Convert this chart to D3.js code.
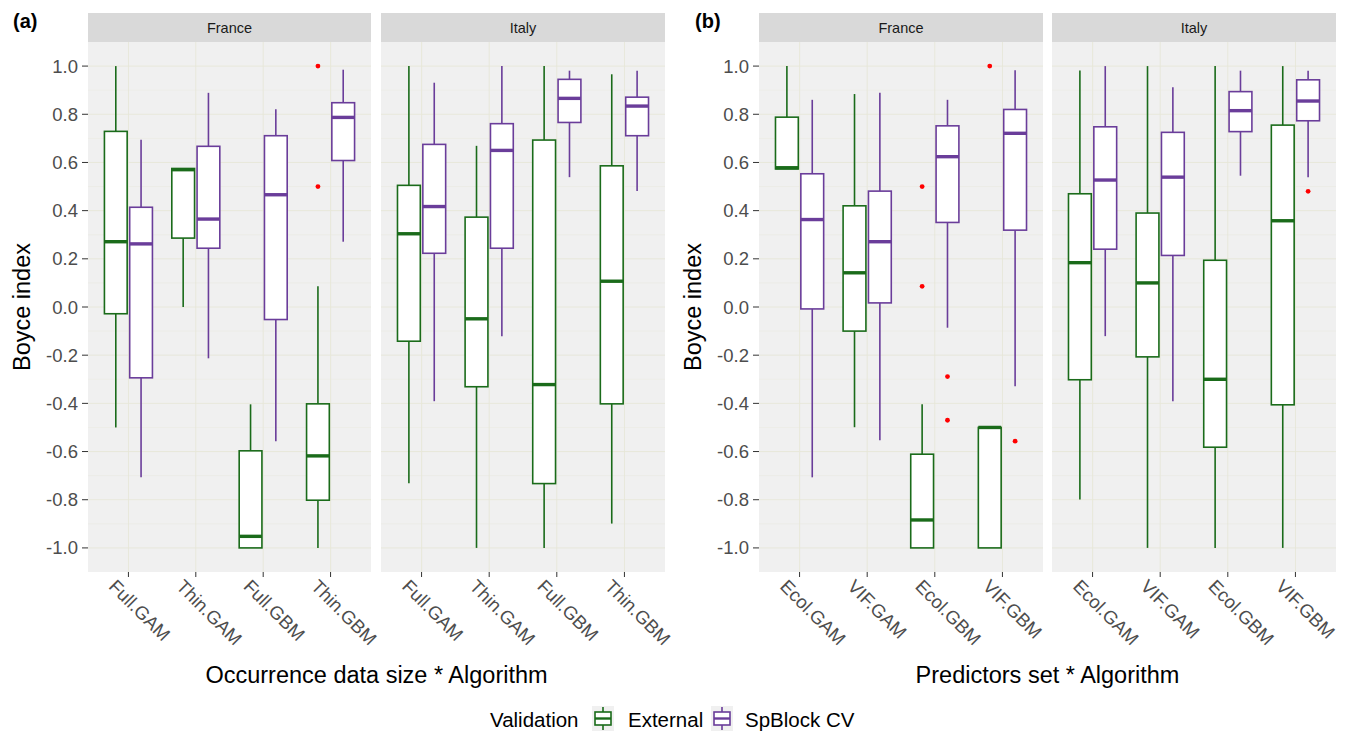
<!DOCTYPE html>
<html>
<head>
<meta charset="utf-8">
<script src="https://cdn.jsdelivr.net/npm/d3@7"></script>
<style>
  body { margin: 0; background: #fff; }
  svg text { font-family: "Liberation Sans", Arial, sans-serif; }
</style>
</head>
<body>
<svg id="chart" width="1354" height="731"></svg>
<script>
// *******************
// data
// *******************
const countries = ["France", "Italy"];
const validation = ["External", "SpBlock CV"];
const catsA = ["Full.GAM", "Thin.GAM", "Full.GBM", "Thin.GBM"];
const catsB = ["Ecol.GAM", "VIF.GAM", "Ecol.GBM", "VIF.GBM"];
const yTicks = [1.0, 0.8, 0.6, 0.4, 0.2, 0.0, -0.2, -0.4, -0.6, -0.8, -1.0];

// [lower whisker, q1, median, q3, upper whisker], one row per category
const aFranceExt = [[-0.5, -0.028, 0.271, 0.729, 1.0], [0.0, 0.286, 0.57, 0.575, 0.575], [-1.0, -1.0, -0.952, -0.597, -0.404], [-1.0, -0.802, -0.618, -0.402, 0.086]];
const aFranceSp = [[-0.707, -0.294, 0.262, 0.414, 0.694], [-0.213, 0.244, 0.365, 0.667, 0.889], [-0.557, -0.052, 0.466, 0.711, 0.821], [0.271, 0.608, 0.787, 0.848, 0.985]];
const aItalyExt = [[-0.732, -0.142, 0.304, 0.505, 1.0], [-1.0, -0.331, -0.049, 0.373, 0.669], [-1.0, -0.733, -0.322, 0.693, 1.0], [-0.899, -0.402, 0.107, 0.586, 0.966]];
const aItalySp = [[-0.391, 0.223, 0.417, 0.675, 0.931], [-0.121, 0.244, 0.65, 0.761, 1.0], [0.539, 0.766, 0.866, 0.945, 0.981], [0.481, 0.711, 0.834, 0.871, 0.981]];
const bFranceExt = [[0.573, 0.573, 0.578, 0.788, 1.0], [-0.499, -0.1, 0.142, 0.42, 0.884], [-1.0, -1.0, -0.884, -0.611, -0.404], [-1.0, -1.0, -0.5, -0.5, -0.5]];
const bFranceSp = [[-0.707, -0.008, 0.363, 0.553, 0.86], [-0.553, 0.017, 0.271, 0.481, 0.889], [-0.086, 0.351, 0.624, 0.752, 0.86], [-0.329, 0.319, 0.721, 0.82, 0.983]];
const bItalyExt = [[-0.799, -0.302, 0.184, 0.47, 0.982], [-1.0, -0.207, 0.1, 0.39, 1.0], [-1.0, -0.582, -0.3, 0.194, 1.0], [-1.0, -0.406, 0.358, 0.755, 1.0]];
const bItalySp = [[-0.121, 0.24, 0.527, 0.748, 1.0], [-0.391, 0.214, 0.539, 0.725, 0.912], [0.545, 0.728, 0.815, 0.894, 0.981], [0.539, 0.773, 0.855, 0.943, 0.981]];

// outliers: [category index, validation index, value]
const aFranceOut = [[3, 0, 1.0], [3, 0, 0.5]];
const aItalyOut = [];
const bFranceOut = [[2, 0, 0.5], [2, 0, 0.086], [2, 1, -0.289], [2, 1, -0.47], [3, 0, 1.0], [3, 1, -0.557]];
const bItalyOut = [[3, 1, 0.48]];

// *******************
// layout / style
// *******************
const COLORS = { External: "#1a6b1a", "SpBlock CV": "#6a3d9a" };
const PLOT = { TOP: 42, BOTTOM: 572, STRIP_TOP: 13 };
const FONT = { TICK: 18.5, TITLE: 23.5, STRIP: 14.5, LEGEND: 20.5, TAG: 20 };

const panels = [
  { tag: "(a)", tagX: 13, cats: catsA, title: "Occurrence data size * Algorithm", axisX: 88,
    facets: [
      { x0: 88, x1: 371, ext: aFranceExt, sp: aFranceSp, out: aFranceOut },
      { x0: 381, x1: 665, ext: aItalyExt, sp: aItalySp, out: aItalyOut }
    ] },
  { tag: "(b)", tagX: 695, cats: catsB, title: "Predictors set * Algorithm", axisX: 759,
    facets: [
      { x0: 759, x1: 1043, ext: bFranceExt, sp: bFranceSp, out: bFranceOut },
      { x0: 1052, x1: 1336, ext: bItalyExt, sp: bItalySp, out: bItalyOut }
    ] }
];

const svg = d3.select("#chart");

const y = d3.scaleLinear().domain([-1.1, 1.1]).range([PLOT.BOTTOM, PLOT.TOP]);
const minorTicks = d3.range(-0.9, 1.0, 0.2);

function drawBox(g, cx, w, s, color) {
  const [lo, q1, med, q3, hi] = s;
  // whiskers
  g.append("line").attr("x1", cx).attr("x2", cx).attr("y1", y(q3)).attr("y2", y(hi))
    .attr("stroke", color).attr("stroke-width", 1.6);
  g.append("line").attr("x1", cx).attr("x2", cx).attr("y1", y(q1)).attr("y2", y(lo))
    .attr("stroke", color).attr("stroke-width", 1.6);
  // box
  g.append("rect").attr("x", cx - w / 2).attr("width", w)
    .attr("y", y(q3)).attr("height", Math.max(0.5, y(q1) - y(q3)))
    .attr("fill", "#fff").attr("stroke", color).attr("stroke-width", 1.6);
  // median
  g.append("line").attr("x1", cx - w / 2).attr("x2", cx + w / 2)
    .attr("y1", y(med)).attr("y2", y(med))
    .attr("stroke", color).attr("stroke-width", 3.4);
}

panels.forEach((p) => {
  p.facets.forEach((f, fi) => {
    const x = d3.scalePoint().domain(p.cats).range([f.x0, f.x1]).padding(0.6);
    const step = x.step();
    const dodge = d3.scaleBand().domain(validation).range([-0.375 * step, 0.375 * step]);
    const boxW = dodge.bandwidth() * 0.9;
    const cx = (cat, v) => x(cat) + dodge(v) + dodge.bandwidth() / 2;

    const g = svg.append("g");

    // panel background + grid
    g.append("rect").attr("x", f.x0).attr("y", PLOT.TOP)
      .attr("width", f.x1 - f.x0).attr("height", PLOT.BOTTOM - PLOT.TOP)
      .attr("fill", "#f0f0f0");
    g.selectAll("line.minor").data(minorTicks).join("line")
      .attr("x1", f.x0).attr("x2", f.x1)
      .attr("y1", (d) => y(d)).attr("y2", (d) => y(d))
      .attr("stroke", "#e9e9df").attr("stroke-width", 0.5);
    g.selectAll("line.majorY").data(yTicks).join("line")
      .attr("x1", f.x0).attr("x2", f.x1)
      .attr("y1", (d) => y(d)).attr("y2", (d) => y(d))
      .attr("stroke", "#e6e6d8").attr("stroke-width", 0.9);
    g.selectAll("line.majorX").data(p.cats).join("line")
      .attr("x1", (d) => x(d)).attr("x2", (d) => x(d))
      .attr("y1", PLOT.TOP).attr("y2", PLOT.BOTTOM)
      .attr("stroke", "#e6e6d8").attr("stroke-width", 0.9);

    // strip
    g.append("rect").attr("x", f.x0).attr("y", PLOT.STRIP_TOP)
      .attr("width", f.x1 - f.x0).attr("height", PLOT.TOP - PLOT.STRIP_TOP)
      .attr("fill", "#d9d9d9");
    g.append("text").attr("x", (f.x0 + f.x1) / 2).attr("y", 32.5)
      .attr("text-anchor", "middle").attr("font-size", FONT.STRIP).attr("fill", "#1a1a1a")
      .text(countries[fi]);

    // boxes
    p.cats.forEach((c, ci) => {
      drawBox(g, cx(c, "External"), boxW, f.ext[ci], COLORS.External);
      drawBox(g, cx(c, "SpBlock CV"), boxW, f.sp[ci], COLORS["SpBlock CV"]);
    });

    // outliers
    g.selectAll("circle.out").data(f.out).join("circle")
      .attr("cx", (d) => cx(p.cats[d[0]], validation[d[1]]))
      .attr("cy", (d) => y(d[2]))
      .attr("r", 2.4).attr("fill", "#ff0000");

    // x axis ticks + labels
    g.selectAll("line.xtick").data(p.cats).join("line")
      .attr("x1", (d) => x(d)).attr("x2", (d) => x(d))
      .attr("y1", PLOT.BOTTOM).attr("y2", PLOT.BOTTOM + 5)
      .attr("stroke", "#333").attr("stroke-width", 1);
    g.selectAll("text.xlab").data(p.cats).join("text")
      .attr("transform", (d) => `translate(${x(d) - 11},${PLOT.BOTTOM + 6}) rotate(45)`)
      .attr("font-size", FONT.TICK).attr("fill", "#4d4d4d")
      .attr("dominant-baseline", "hanging")
      .text((d) => d);

    // y axis on first facet
    if (fi === 0) {
      g.selectAll("line.ytick").data(yTicks).join("line")
        .attr("x1", f.x0 - 6).attr("x2", f.x0)
        .attr("y1", (d) => y(d)).attr("y2", (d) => y(d))
        .attr("stroke", "#333").attr("stroke-width", 1);
      g.selectAll("text.ylab").data(yTicks).join("text")
        .attr("x", f.x0 - 10).attr("y", (d) => y(d) + 6.5)
        .attr("text-anchor", "end").attr("font-size", FONT.TICK).attr("fill", "#4d4d4d")
        .text((d) => d.toFixed(1));
    }
  });

  // axis titles and tag
  const xc = (p.facets[0].x0 + p.facets[1].x1) / 2;
  svg.append("text").attr("x", xc).attr("y", 683)
    .attr("text-anchor", "middle").attr("font-size", FONT.TITLE).attr("fill", "#000")
    .text(p.title);
  svg.append("text")
    .attr("transform", `translate(${p.axisX - 58},${(PLOT.TOP + PLOT.BOTTOM) / 2}) rotate(-90)`)
    .attr("text-anchor", "middle").attr("font-size", FONT.TITLE).attr("fill", "#000")
    .text("Boyce index");
  svg.append("text").attr("x", p.tagX).attr("y", 28)
    .attr("font-size", FONT.TAG).attr("font-weight", "bold").attr("fill", "#000")
    .text(p.tag);
});

// *******************
// legend
// *******************
const legend = svg.append("g").attr("transform", "translate(490,0)");
legend.append("text").attr("x", 0).attr("y", 727)
  .attr("font-size", FONT.LEGEND).attr("fill", "#000").text("Validation");

const keyX = [102, 221];
const keyLabelX = [138, 255];
validation.forEach((v, i) => {
  const kg = legend.append("g").attr("transform", `translate(${keyX[i]},706)`);
  kg.append("rect").attr("x", 0).attr("y", 0).attr("width", 22).attr("height", 25).attr("fill", "#f0f0f0");
  kg.append("line").attr("x1", 11).attr("x2", 11).attr("y1", 1).attr("y2", 24)
    .attr("stroke", COLORS[v]).attr("stroke-width", 1.6);
  kg.append("rect").attr("x", 3).attr("y", 6).attr("width", 16).attr("height", 13)
    .attr("fill", "#fff").attr("stroke", COLORS[v]).attr("stroke-width", 1.6);
  kg.append("line").attr("x1", 3).attr("x2", 19).attr("y1", 12.5).attr("y2", 12.5)
    .attr("stroke", COLORS[v]).attr("stroke-width", 2.4);
  legend.append("text").attr("x", keyLabelX[i]).attr("y", 727)
    .attr("font-size", FONT.LEGEND).attr("fill", "#000").text(v);
});
</script>
</body>
</html>
